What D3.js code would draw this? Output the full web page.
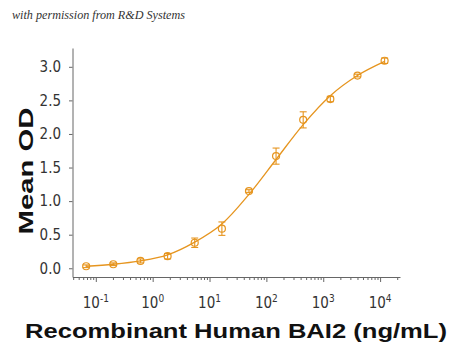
<!DOCTYPE html>
<html>
<head>
<meta charset="utf-8">
<script src="https://cdn.jsdelivr.net/npm/d3@7"></script>
<style>
  body { margin: 0; background: #fff; }
  .tick text { font-family: 'Liberation Sans Narrow', 'DejaVu Sans Condensed', 'Roboto Condensed', sans-serif; fill: #333; }
</style>
</head>
<body>
<script>
// concentrations (ng/mL), 3-fold dilution series
let conc = [0.0677, 0.203, 0.61, 1.83, 5.49, 16.5, 49.4, 148, 444, 1333, 4000, 12000]
let meanOD = [0.03, 0.06, 0.11, 0.18, 0.38, 0.59, 1.15, 1.67, 2.21, 2.52, 2.87, 3.09]
let errOD = [0.02, 0.02, 0.03, 0.04, 0.07, 0.10, 0.02, 0.12, 0.12, 0.04, 0.02, 0.04]
// fitted curve read at the same concentrations
let fitOD = [0.03, 0.06, 0.11, 0.20, 0.39, 0.66, 1.10, 1.62, 2.14, 2.57, 2.87, 3.08]
let yTicks = [0, 0.5, 1.0, 1.5, 2.0, 2.5, 3.0]
let xDecades = [-1, 0, 1, 2, 3, 4]

let color = '#e6951f'

let svg = d3.select('body').append('svg')
    .attr('width', 450)
    .attr('height', 354)

let xScale = d3.scaleLog()
    .domain([Math.pow(10, -1.41), Math.pow(10, 4.35)])
    .range([72.5, 400])

let yScale = d3.scaleLinear()
    .domain([-0.13, 3.28])
    .range([277, 48])

// minor + major ticks for log axis
let xTickVals = []
xDecades.concat([-2]).forEach(p => {
    for (let m = 1; m < 10; m++) {
        let v = m * Math.pow(10, p)
        if (v >= xScale.domain()[0] && v <= xScale.domain()[1]) xTickVals.push(v)
    }
})

let xAxis = d3.axisBottom(xScale)
    .tickValues(xTickVals)
    .tickSizeOuter(0)
    .tickFormat('')

let xg = svg.append('g')
    .attr('transform', 'translate(0,277)')
    .call(xAxis)
xg.select('.domain').attr('stroke', '#666')
xg.selectAll('.tick line')
    .attr('stroke', '#666')
    .attr('y2', d => xDecades.some(p => Math.abs(Math.log10(d) - p) < 1e-6) ? 5 : 3)

// decade labels 10^n
let xl = svg.append('g')
xDecades.forEach(p => {
    let t = xl.append('text')
        .attr('x', xScale(Math.pow(10, p)))
        .attr('y', 308)
        .attr('text-anchor', 'middle')
        .style('font-family', "'Liberation Sans Narrow', 'DejaVu Sans Condensed', sans-serif")
        .style('font-size', '15px')
        .style('fill', '#333')
    t.append('tspan').text('10')
    t.append('tspan').text(p).attr('dy', -6).style('font-size', '10px')
})

let yAxis = d3.axisLeft(yScale)
    .tickValues(yTicks)
    .tickSize(3.5)
    .tickPadding(8)
    .tickSizeOuter(0)
    .tickFormat(d3.format('.1f'))

let yg = svg.append('g')
    .attr('transform', 'translate(72.5,0)')
    .call(yAxis)
yg.select('.domain').attr('stroke', '#666')
yg.selectAll('.tick line').attr('stroke', '#666')
yg.selectAll('.tick text').style('font-size', '15px')

// fitted curve
let pts = conc.map((c, i) => ({c: c, m: meanOD[i], e: errOD[i], f: fitOD[i]}))

let line = d3.line()
    .x(d => xScale(d.c))
    .y(d => yScale(d.f))
    .curve(d3.curveCatmullRom)

svg.append('path')
    .datum(pts)
    .attr('d', line)
    .attr('fill', 'none')
    .attr('stroke', color)
    .attr('stroke-width', 1.3)

// error bars
let eb = svg.append('g').attr('stroke', color).attr('stroke-width', 1.1)
eb.selectAll('line.v').data(pts).join('line')
    .attr('class', 'v')
    .attr('x1', d => xScale(d.c)).attr('x2', d => xScale(d.c))
    .attr('y1', d => yScale(d.m - d.e)).attr('y2', d => yScale(d.m + d.e))
eb.selectAll('line.top').data(pts).join('line')
    .attr('class', 'top')
    .attr('x1', d => xScale(d.c) - 3.5).attr('x2', d => xScale(d.c) + 3.5)
    .attr('y1', d => yScale(d.m + d.e)).attr('y2', d => yScale(d.m + d.e))
eb.selectAll('line.bot').data(pts).join('line')
    .attr('class', 'bot')
    .attr('x1', d => xScale(d.c) - 3.5).attr('x2', d => xScale(d.c) + 3.5)
    .attr('y1', d => yScale(d.m - d.e)).attr('y2', d => yScale(d.m - d.e))

// markers
svg.append('g').selectAll('circle').data(pts).join('circle')
    .attr('cx', d => xScale(d.c))
    .attr('cy', d => yScale(d.m))
    .attr('r', 3.5)
    .attr('fill', 'none')
    .attr('stroke', color)
    .attr('stroke-width', 1.2)

// axis titles
svg.append('text')
    .attr('transform', 'translate(33,171) rotate(-90)')
    .attr('text-anchor', 'middle')
    .attr('textLength', 127)
    .attr('lengthAdjust', 'spacingAndGlyphs')
    .style('font-family', "'Liberation Sans', Arial, sans-serif")
    .style('font-weight', 'bold')
    .style('font-size', '21px')
    .style('fill', '#111')
    .text('Mean OD')

svg.append('text')
    .attr('x', 236)
    .attr('y', 338)
    .attr('text-anchor', 'middle')
    .attr('textLength', 422)
    .attr('lengthAdjust', 'spacingAndGlyphs')
    .style('font-family', "'Liberation Sans', Arial, sans-serif")
    .style('font-weight', 'bold')
    .style('font-size', '20px')
    .style('fill', '#111')
    .text('Recombinant Human BAI2 (ng/mL)')

svg.append('text')
    .attr('x', 12)
    .attr('y', 19)
    .attr('textLength', 173)
    .attr('lengthAdjust', 'spacingAndGlyphs')
    .style('font-family', "'Liberation Serif', 'DejaVu Serif', serif")
    .style('font-style', 'italic')
    .style('font-size', '12px')
    .style('fill', '#333')
    .text('with permission from R&D Systems')
</script>
</body>
</html>
